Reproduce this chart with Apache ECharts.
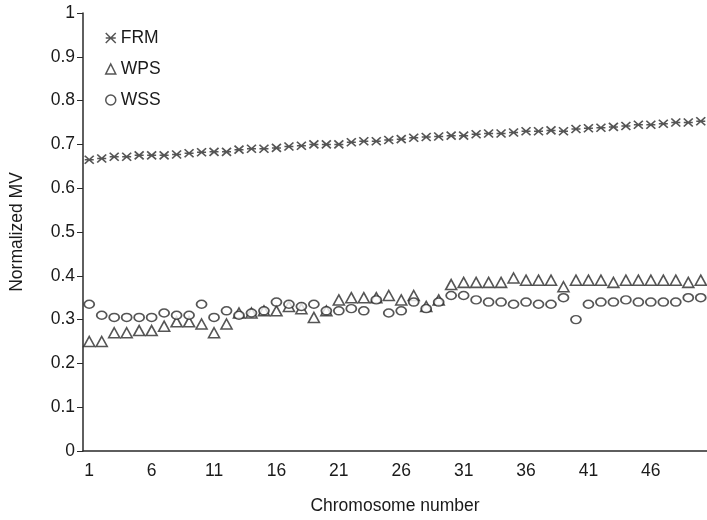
<!DOCTYPE html>
<html>
<head>
<meta charset="utf-8">
<script src="https://cdn.jsdelivr.net/npm/echarts@6/dist/echarts.min.js"></script>
<style>html,body{margin:0;padding:0;background:#fff}#c{width:707px;height:520px}</style>
</head>
<body>
<div id="c"></div>
<script>
var categories = [];
for (var i = 1; i <= 50; i++) categories.push(String(i));

var frm = [0.665,0.668,0.672,0.672,0.675,0.675,0.675,0.677,0.680,0.682,
           0.683,0.683,0.688,0.690,0.690,0.692,0.695,0.697,0.700,0.700,
           0.700,0.705,0.707,0.707,0.710,0.712,0.715,0.717,0.718,0.720,
           0.720,0.723,0.725,0.725,0.727,0.730,0.730,0.732,0.730,0.735,
           0.737,0.738,0.740,0.742,0.745,0.745,0.747,0.750,0.750,0.753];
var wps = [0.250,0.250,0.270,0.270,0.275,0.275,0.285,0.295,0.295,0.290,
           0.270,0.290,0.315,0.315,0.320,0.320,0.330,0.325,0.305,0.320,
           0.345,0.350,0.350,0.350,0.355,0.345,0.355,0.330,0.345,0.380,
           0.385,0.385,0.385,0.385,0.395,0.390,0.390,0.390,0.375,0.390,
           0.390,0.390,0.385,0.390,0.390,0.390,0.390,0.390,0.385,0.390];
var wss = [0.335,0.310,0.305,0.305,0.305,0.305,0.315,0.310,0.310,0.335,
           0.305,0.320,0.310,0.315,0.320,0.340,0.335,0.330,0.335,0.320,
           0.320,0.325,0.320,0.345,0.315,0.320,0.340,0.325,0.340,0.355,
           0.355,0.345,0.340,0.340,0.335,0.340,0.335,0.335,0.350,0.300,
           0.335,0.340,0.340,0.345,0.340,0.340,0.340,0.340,0.350,0.350];

var ink = '#2a2a2a';
var asterisk = 'path://M0,0L10,10M10,0L0,10M0,5L10,5';
var font = 'Liberation Sans, Arial, sans-serif';

var chart = echarts.init(document.getElementById('c'), null, {renderer: 'canvas'});
chart.setOption({
  animation: false,
  backgroundColor: '#fff',
  textStyle: {fontFamily: font},
  grid: {left: 83, top: 13, bottom: 67, right: -9, containLabel: false},
  legend: {
    orient: 'vertical', left: 100, top: 24, itemGap: 13, itemWidth: 10, itemHeight: 10,
    textStyle: {fontSize: 17.5, color: '#1a1a1a', fontFamily: font},
    data: [
      {name: 'FRM', icon: asterisk, itemStyle: {color: 'transparent', borderColor: ink, borderWidth: 1.5}},
      {name: 'WPS', icon: 'triangle', itemStyle: {color: '#fff', borderColor: ink, borderWidth: 1.5}},
      {name: 'WSS', icon: 'circle', itemStyle: {color: '#fff', borderColor: ink, borderWidth: 1.5}}
    ]
  },
  xAxis: {
    type: 'category', data: categories, boundaryGap: true,
    name: 'Chromosome number', nameLocation: 'middle', nameGap: 46,
    nameTextStyle: {fontSize: 17.5, color: '#1a1a1a'},
    axisLine: {lineStyle: {color: ink, width: 1.5}},
    axisTick: {interval: 0, length: 6, lineStyle: {color: ink}},
    axisLabel: {interval: 4, fontSize: 17.5, color: '#1a1a1a', margin: 11},
    splitLine: {show: false}
  },
  yAxis: {
    type: 'value', min: 0, max: 1, interval: 0.1,
    name: 'Normalized MV', nameLocation: 'middle', nameGap: 57,
    nameTextStyle: {fontSize: 17.5, color: '#1a1a1a'},
    axisLine: {show: true, lineStyle: {color: ink, width: 1.5}},
    axisTick: {show: true, length: 6, lineStyle: {color: ink}},
    axisLabel: {fontSize: 17.5, color: '#1a1a1a', margin: 8},
    splitLine: {show: false}
  },
  series: [
    {name: 'FRM', type: 'scatter', data: frm, symbol: asterisk, symbolSize: [9, 8],
     itemStyle: {color: 'transparent', borderColor: ink, borderWidth: 1.6}},
    {name: 'WPS', type: 'scatter', data: wps, symbol: 'triangle', symbolSize: [11, 10],
     itemStyle: {color: '#fff', borderColor: ink, borderWidth: 1.6}},
    {name: 'WSS', type: 'scatter', data: wss, symbol: 'circle', symbolSize: [10, 8],
     itemStyle: {color: '#fff', borderColor: ink, borderWidth: 1.6}}
  ]
});
</script>
</body>
</html>
